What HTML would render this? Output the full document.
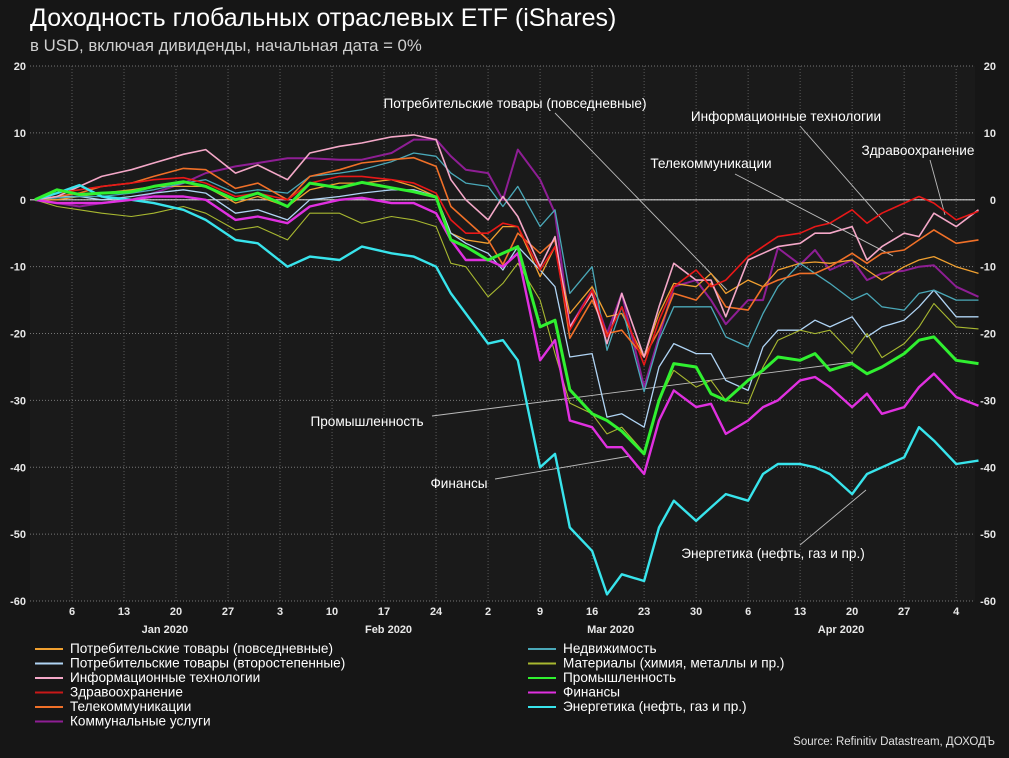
<!DOCTYPE html>
<html><head><meta charset="utf-8">
<style>
html,body{margin:0;padding:0;background:#161616;}
body{width:1009px;height:753px;overflow:hidden;font-family:"Liberation Sans",sans-serif;}
svg text{font-family:"Liberation Sans",sans-serif;}
</style></head>
<body>
<svg id="chart" width="1009" height="753" xmlns="http://www.w3.org/2000/svg">
<rect x="0" y="0" width="1009" height="753" fill="#161616"/>
<rect x="30" y="66" width="945" height="535" fill="#1a1a1a"/>
<text x="30" y="26" fill="#ffffff" font-size="25">Доходность глобальных отраслевых ETF (iShares)</text>
<text x="30" y="51" fill="#cfcfcf" font-size="16.8">в USD, включая дивиденды, начальная дата = 0%</text>
<g id="grid"></g>
<g id="annot"></g>
<g id="series"></g>
<g id="labels"></g>
<g id="legend"></g>
<text x="995" y="745" fill="#e0e0e0" font-size="11.5" text-anchor="end">Source: Refinitiv Datastream, ДОХОДЪ</text>
</svg>
<script>
// day offsets from 1 Jan 2020
const days = [0,3,6,9,13,16,20,23,27,30,34,37,41,44,48,51,54,56,58,61,63,65,68,70,72,75,77,79,82,84,86,89,91,93,96,98,100,103,105,107,110,112,114,117,119,121,124,127];
const staples = [0,0,0.5,1,1.5,2,2,2,-0.5,0.5,-1,1.5,2.5,2.5,3,2,0.5,-5,-6,-6.5,-4,-4,-11.5,-7,-17,-13,-17.5,-17,-23.5,-17,-12.5,-13,-11,-14,-12,-13,-10.5,-9.5,-9.3,-9.5,-9,-10.5,-12,-10,-9,-8.5,-10,-11];
const discretionary = [0,0.5,0.5,0,0.5,1,1.5,1,-2,-1.5,-3,0,0.5,1,1.5,1.5,0.5,-5,-6.5,-8,-10.5,-7,-10.5,-13,-23.5,-23,-32.5,-32,-34,-25,-21.5,-23,-23,-27,-28.5,-22,-19.5,-19.5,-18,-19,-17.5,-20.5,-19,-18,-16,-13.5,-17.5,-17.5];
const infotech = [0,0.5,2,3.5,4.5,5.5,6.8,7.5,4,5.2,3,7,8,8.5,9.4,9.7,9,3,0,-3,0.5,-2.5,-10,-5.5,-19,-14,-21.5,-14,-23.5,-16,-9.5,-12,-12,-17.5,-9,-8,-7,-6.5,-5,-5,-4,-9,-7,-5,-5.5,-2,-4,-1.5];
const healthcare = [0,1,1.5,2,2.5,3,3.3,2.5,0.5,1,0,2.5,3.5,3.5,3,2.5,1,-3,-5,-5,-3.5,-4,-10.5,-7,-19.5,-13.5,-20.5,-16,-24.7,-18,-13,-10.5,-13,-12,-8.5,-7,-5.5,-5,-4,-3.5,-1.5,-3.5,-2,-0.5,0.5,-0.5,-3,-1.7];
const telecom = [0,0.5,1,2,2.5,3.5,4.7,4.5,1.7,2.5,0,3.5,4.5,5.5,6,6.3,5,-1,-3,-6,-9.7,-5,-8,-6,-20.7,-15,-20,-19.5,-23.5,-19.5,-14,-15,-12.5,-16,-16.5,-13,-12,-11,-11,-10,-8,-9.5,-8,-7.5,-6,-4.5,-6.5,-6];
const utilities = [0,-0.5,-1,-0.5,0,1,2.5,4,5,5.5,6.2,6.2,6,6,7,9,9,6.5,4.5,4,0,7.5,3,-2,-19,-13.5,-20,-14,-28,-20.5,-13,-12,-15,-18.6,-15,-15,-7.2,-9.7,-7.5,-10.5,-9,-12,-11,-10.6,-10,-9.8,-13,-14.5];
const realestate = [0,0.3,0.5,0.5,1,1.5,2.5,3,1,1.5,1,3.5,4,4.5,5.7,7,6.5,4,2.5,2,-1,2,-4,-1.5,-14,-10,-22.5,-16,-28.7,-21,-16,-16,-16,-20.5,-22,-17,-13,-9.5,-11,-12.5,-15,-14,-16,-16.5,-14,-13.5,-15,-15];
const materials = [0,-1,-1.5,-2,-2.5,-2,-1,-2,-4.5,-4,-6,-2,-2,-3.5,-2.5,-3,-4,-9.5,-10,-14.5,-12.5,-9.5,-15,-23,-30.4,-32,-35,-34,-37.8,-30,-25.5,-28,-27,-30,-30.5,-25,-21,-19.5,-20,-19.5,-23,-20,-23.6,-21.5,-19,-15.5,-19,-19.3];
const industrials = [0,1.5,0.8,1,1.2,2,2.7,2,0,1,-1,2.5,1.8,2.6,1.8,1.2,0.4,-6,-7,-9,-8,-7,-19,-18,-28.4,-32,-33,-34.6,-38,-30,-24.5,-25,-29,-30,-27,-25.5,-23.5,-24,-23,-25.5,-24.5,-26,-25,-23,-21,-20.5,-24,-24.5];
const financials = [0,-0.5,-0.5,-0.5,0,0.5,0.5,0,-3,-2.5,-3.5,-1,0,0.3,-0.5,-0.5,-2,-6,-9,-9,-10,-8,-24,-21,-33,-34,-37,-37,-41,-33,-28.5,-31,-30.5,-35,-33,-31,-30,-27,-26.5,-28,-31,-29,-32,-31,-28,-26,-29.5,-30.8];
const energy = [0,1,2.2,0.5,0,-0.5,-1.5,-3,-6,-6.5,-10,-8.5,-9,-7,-8,-8.5,-10,-14,-17,-21.5,-21,-24,-40,-38,-49,-52.5,-59,-56,-57,-49,-45,-48,-46,-44,-45,-41,-39.5,-39.5,-40,-41,-44,-41,-40,-38.5,-34,-36,-39.5,-39];
const yTicks = [20,10,0,-10,-20,-30,-40,-50,-60];
const xTickDays = [5,12,19,26,33,40,47,54,61,68,75,82,89,96,103,110,117,124];
const xTickLabels = ["6","13","20","27","3","10","17","24","2","9","16","23","30","6","13","20","27","4"];
const monthLabels = ["Jan 2020","Feb 2020","Mar 2020","Apr 2020"];
const monthDays = [17.5,47.6,77.5,108.5];

const NS="http://www.w3.org/2000/svg";
function X(d){return 72+(d-5)*7.43;}
function Y(v){return 199.8-v*6.6875;}
function mk(tag,attrs,parent){const e=document.createElementNS(NS,tag);for(const k in attrs)e.setAttribute(k,attrs[k]);parent.appendChild(e);return e;}
const grid=document.getElementById('grid'), labels=document.getElementById('labels');
yTicks.forEach(v=>{
  const l=mk('line',{x1:30,x2:975,y1:Y(v),y2:Y(v),stroke:'#777','stroke-width':1,'stroke-dasharray':'1,2'},grid);
  
  
  const t=mk('text',{x:26,y:Y(v)+4,'text-anchor':'end',fill:'#e8e8e8','font-size':11,'font-weight':'bold'},labels);
  t.textContent=v;
  
  
  const t2=mk('text',{x:996,y:Y(v)+4,'text-anchor':'end',fill:'#e8e8e8','font-size':11,'font-weight':'bold'},labels);
  t2.textContent=v;
  
  
});
xTickDays.forEach((d,i)=>{
  const l=mk('line',{x1:X(d),x2:X(d),y1:66,y2:601,stroke:'#5a5a5a','stroke-width':1,'stroke-dasharray':'1,2'},grid);
  
  
  const t=mk('text',{x:X(d),y:615,'text-anchor':'middle',fill:'#e8e8e8','font-size':11,'font-weight':'bold'},labels);
  t.textContent=xTickLabels[i];
  
  
});
monthDays.forEach((d,i)=>{
  const t=mk('text',{x:X(d),y:633,'text-anchor':'middle',fill:'#e8e8e8','font-size':11,'font-weight':'bold'},labels);
  t.textContent=monthLabels[i];
  
  
});
const zl=mk('line',{x1:30,x2:975,y1:Y(0),y2:Y(0),stroke:'#cfcfcf','stroke-width':1.2},grid);



const ann=document.getElementById('annot');
const annots=[
 ["Потребительские товары (повседневные)",515,108,555,113,727,290],
 ["Информационные технологии",786,121,800,126,893,232],
 ["Телекоммуникации",711,168,735,174,893,256],
 ["Здравоохранение",918,155,930,160,945,215],
 ["Промышленность",367,426,432,416,853,362],
 ["Финансы",459,488,495,479,630,456],
 ["Энергетика (нефть, газ и пр.)",773,558,800,545,866,490]
];
annots.forEach(a=>{
  const l=mk('line',{x1:a[3],y1:a[4],x2:a[5],y2:a[6],stroke:'#bbbbbb','stroke-width':0.9},ann);
  
  
  const t=mk('text',{x:a[1],y:a[2],'text-anchor':'middle',fill:'#ffffff','font-size':13.6},labels);
  t.textContent=a[0];
  
  
});

const ser=document.getElementById('series');
const defs=[
 ["series-utilities",utilities,'#8e1e94',2],
 ["series-staples",staples,'#f0a030',1.3],
 ["series-discretionary",discretionary,'#b0d4f4',1.3],
 ["series-materials",materials,'#a8b830',1.1],
 ["series-realestate",realestate,'#4aa8b8',1.3],
 ["series-telecom",telecom,'#f07028',1.6],
 ["series-infotech",infotech,'#f4a8c8',1.6],
 ["series-healthcare",healthcare,'#e81818',1.6],
 ["series-energy",energy,'#38e4ec',2.4],
 ["series-financials",financials,'#e030e0',2.4],
 ["series-industrials",industrials,'#30f030',3]
];
defs.forEach(s=>{
  const pts=days.map((d,i)=>X(d).toFixed(1)+','+Y(s[1][i]).toFixed(1)).join(' ');
  const p=mk('polyline',{points:pts,fill:'none',stroke:s[2],'stroke-width':s[3],'stroke-linejoin':'round'},ser);
  
  
});

const leg=document.getElementById('legend');
const legItems=[
 ["Потребительские товары (повседневные)",'#f0a030',35,653],
 ["Потребительские товары (второстепенные)",'#b0d4f4',35,667.5],
 ["Информационные технологии",'#f4a8c8',35,682],
 ["Здравоохранение",'#c81818',35,696.5],
 ["Телекоммуникации",'#f07028',35,711],
 ["Коммунальные услуги",'#8e1e94',35,725.5],
 ["Недвижимость",'#4aa8b8',528,653],
 ["Материалы (химия, металлы и пр.)",'#a8b830',528,667.5],
 ["Промышленность",'#30f030',528,682],
 ["Финансы",'#e030e0',528,696.5],
 ["Энергетика (нефть, газ и пр.)",'#38e4ec',528,711]
];
legItems.forEach(it=>{
  const l=mk('line',{x1:it[2],x2:it[2]+28,y1:it[3]-4,y2:it[3]-4,stroke:it[1],'stroke-width':2},leg);
  
  
  const t=mk('text',{x:it[2]+35,y:it[3],fill:'#ffffff','font-size':13.6},leg);
  t.textContent=it[0];
  
  
});
</script>
</body></html>
